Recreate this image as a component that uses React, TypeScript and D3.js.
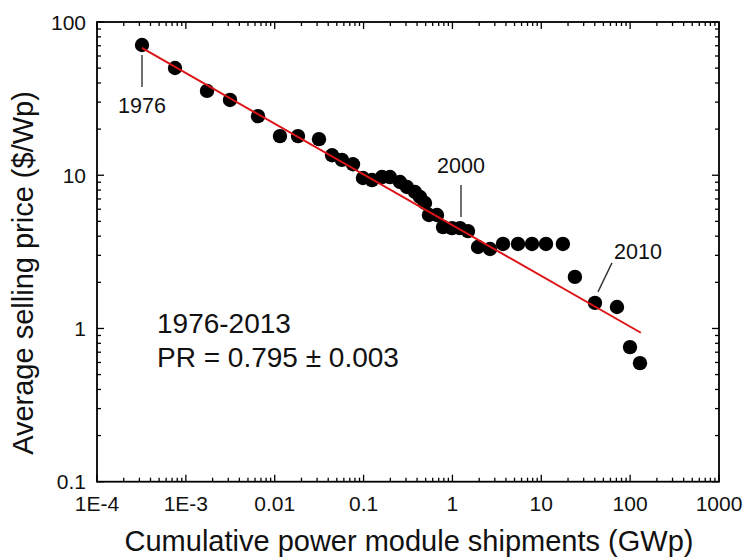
import React from "react";
import * as d3 from "d3";

// Cumulative shipments (GWp) and average selling price ($/Wp), 1976-2013
const years = [
  1976, 1977, 1978, 1979, 1980, 1981, 1982, 1983, 1984, 1985,
  1986, 1987, 1988, 1989, 1990, 1991, 1992, 1993, 1994, 1995,
  1996, 1997, 1998, 1999, 2000, 2001, 2002, 2003, 2004, 2005,
  2006, 2007, 2008, 2009, 2010, 2011, 2012, 2013,
];
const shipments = [
  3.21e-4, 7.55e-4, 1.73e-3, 3.14e-3, 6.49e-3, 0.01146, 0.01828, 0.0315, 0.0442, 0.0571,
  0.076, 0.0984, 0.1245, 0.161, 0.198, 0.257, 0.308, 0.379, 0.432, 0.491,
  0.544, 0.67, 0.783, 0.988, 1.217, 1.497, 1.94, 2.65, 3.71, 5.47,
  7.86, 11.3, 17.5, 23.9, 40.2, 71.1, 99.6, 129,
];
const prices = [
  70.8, 50.1, 35.5, 31.0, 24.3, 18.0, 18.0, 17.2, 13.5, 12.6,
  11.8, 9.59, 9.3, 9.73, 9.73, 9.03, 8.38, 7.77, 7.21, 6.59,
  5.5, 5.5, 4.59, 4.52, 4.52, 4.32, 3.4, 3.3, 3.56, 3.56,
  3.56, 3.56, 3.56, 2.17, 1.47, 1.38, 0.756, 0.594,
];
// Fit: price = A * shipments^b, with progress ratio PR = 2^b
const progressRatio = 0.795;
const fitA = 4.72;
const fitRange = [3.2e-4, 132];

const xTickValues = [1e-4, 1e-3, 0.01, 0.1, 1, 10, 100, 1000];
const xTickLabels = ["1E-4", "1E-3", "0.01", "0.1", "1", "10", "100", "1000"];
const yTickValues = [0.1, 1, 10, 100];
const yTickLabels = ["0.1", "1", "10", "100"];

const annotations = [
  { label: "1976", year: 1976 },
  { label: "2000", year: 2000 },
  { label: "2010", year: 2010 },
];

const W = 746;
const H = 558;
const M = { left: 97, top: 22, right: 719, bottom: 481.7 };
const FONT = "'Liberation Sans', Arial, Helvetica, sans-serif";

function minorTicks(lo: number, hi: number) {
  const out: number[] = [];
  for (let e = Math.round(Math.log10(lo)); e < Math.round(Math.log10(hi)); e++) {
    for (let m = 2; m <= 9; m++) out.push(m * Math.pow(10, e));
  }
  return out;
}

export default function App() {
  const x = d3.scaleLog().domain([1e-4, 1000]).range([M.left, M.right]);
  const y = d3.scaleLog().domain([0.1, 100]).range([M.bottom, M.top]);
  const b = Math.log2(progressRatio);
  const fitLine = d3
    .line<number>()
    .x((d) => x(d))
    .y((d) => y(fitA * Math.pow(d, b)));

  const xMinor = minorTicks(1e-4, 1000);
  const yMinor = minorTicks(0.1, 100);
  const majorLen = 7;
  const minorLen = 4;

  const pt = (yr: number) => {
    const i = years.indexOf(yr);
    return { px: x(shipments[i]), py: y(prices[i]) };
  };
  const a1976 = pt(1976);
  const a2000 = pt(2000);
  const a2010 = pt(2010);

  return (
    <svg
      width={W}
      height={H}
      style={{ position: "absolute", left: 0, top: 0, background: "#fff" }}
      fontFamily={FONT}
    >
      <rect x={0} y={0} width={W} height={H} fill="#fff" />
      {/* ticks */}
      <g stroke="#000" strokeWidth={1.3}>
        {xTickValues.map((v) => (
          <g key={"xm" + v}>
            <line x1={x(v)} x2={x(v)} y1={M.bottom} y2={M.bottom - majorLen} />
            <line x1={x(v)} x2={x(v)} y1={M.top} y2={M.top + majorLen} />
          </g>
        ))}
        {xMinor.map((v) => (
          <g key={"xn" + v}>
            <line x1={x(v)} x2={x(v)} y1={M.bottom} y2={M.bottom - minorLen} />
            <line x1={x(v)} x2={x(v)} y1={M.top} y2={M.top + minorLen} />
          </g>
        ))}
        {yTickValues.map((v) => (
          <g key={"ym" + v}>
            <line x1={M.left} x2={M.left + majorLen} y1={y(v)} y2={y(v)} />
            <line x1={M.right} x2={M.right - majorLen} y1={y(v)} y2={y(v)} />
          </g>
        ))}
        {yMinor.map((v) => (
          <g key={"yn" + v}>
            <line x1={M.left} x2={M.left + minorLen} y1={y(v)} y2={y(v)} />
            <line x1={M.right} x2={M.right - minorLen} y1={y(v)} y2={y(v)} />
          </g>
        ))}
      </g>
      <rect
        x={M.left}
        y={M.top}
        width={M.right - M.left}
        height={M.bottom - M.top}
        fill="none"
        stroke="#000"
        strokeWidth={1.8}
      />
      {/* tick labels */}
      <g fontSize={21} fill="#111">
        {xTickValues.map((v, i) => (
          <text key={"xl" + v} x={x(v)} y={511} textAnchor="middle">
            {xTickLabels[i]}
          </text>
        ))}
        {yTickValues.map((v, i) => (
          <text key={"yl" + v} x={86} y={y(v) + 7.5} textAnchor="end">
            {yTickLabels[i]}
          </text>
        ))}
      </g>
      {/* axis titles */}
      <text x={409} y={551} textAnchor="middle" fontSize={29} fill="#111">
        Cumulative power module shipments (GWp)
      </text>
      <text
        transform={`translate(33, 273) rotate(-90)`}
        textAnchor="middle"
        fontSize={29}
        fill="#111"
      >
        Average selling price ($/Wp)
      </text>
      {/* data points */}
      <g fill="#000">
        {shipments.map((s, i) => (
          <circle key={"p" + i} cx={x(s)} cy={y(prices[i])} r={7.2} />
        ))}
      </g>
      {/* fit line */}
      <path
        d={fitLine(fitRange) || ""}
        fill="none"
        stroke="#dc1417"
        strokeWidth={2}
      />
      {/* annotations */}
      <g stroke="#333" strokeWidth={1.4}>
        <line x1={a1976.px} x2={a1976.px} y1={a1976.py + 10} y2={a1976.py + 42} />
        <line x1={a2000.px + 1} x2={a2000.px + 1} y1={a2000.py - 43} y2={a2000.py - 11} />
        <line x1={a2010.px + 17} x2={a2010.px + 3} y1={a2010.py - 40} y2={a2010.py - 11} />
      </g>
      <g fontSize={21.5} fill="#111">
        <text x={a1976.px} y={113} textAnchor="middle">
          {annotations[0].label}
        </text>
        <text x={461} y={173} textAnchor="middle">
          {annotations[1].label}
        </text>
        <text x={638} y={259} textAnchor="middle">
          {annotations[2].label}
        </text>
      </g>
      <g fontSize={28} fill="#111">
        <text x={157} y={333}>1976-2013</text>
        <text x={157} y={367}>PR = {progressRatio.toFixed(3)} ± 0.003</text>
      </g>
    </svg>
  );
}
